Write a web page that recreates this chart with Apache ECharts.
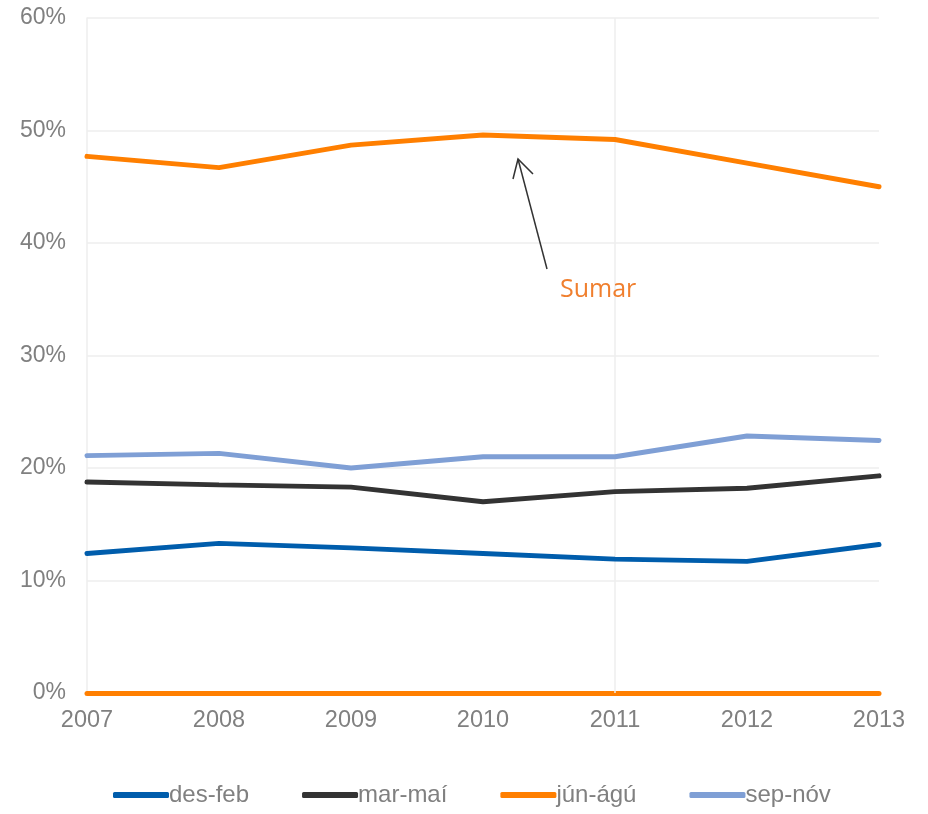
<!DOCTYPE html>
<html><head><meta charset="utf-8">
<script src="https://cdn.jsdelivr.net/npm/echarts@6/dist/echarts.min.js"></script>
<style>html,body{margin:0;padding:0;background:#fff}#c{width:928px;height:814px}</style>
</head><body><div id="c"></div>
<script>
const years = ['2007','2008','2009','2010','2011','2012','2013'];
const desFeb = [12.4, 13.3, 12.9, 12.4, 11.9, 11.7, 13.2];
const marMai = [18.75, 18.5, 18.3, 17.0, 17.9, 18.2, 19.3];
const junAgu = [47.7, 46.7, 48.7, 49.6, 49.2, 47.1, 45.0];
const sepNov = [21.1, 21.3, 20.0, 21.0, 21.0, 22.85, 22.45];
const seriesNames = ['des-feb','mar-maí','jún-ágú','sep-nóv'];
const colors = ['#005DAC','#333333','#FF7F00','#7F9FD5'];
const yTicks = [0,10,20,30,40,50,60];

const chart = echarts.init(document.getElementById('c'), null, {renderer:'canvas'});
const font = 'Liberation Sans, Arial, sans-serif';
const data = [desFeb, marMai, junAgu, sepNov];
const series = seriesNames.map((n,i)=>({
  name:n, type:'line', data:data[i], symbol:'none',
  lineStyle:{width:5,color:colors[i],cap:'round'}, itemStyle:{color:colors[i]},
  z: 3
}));
series[0].markLine = {
  silent:true, symbol:'none', label:{show:false},
  lineStyle:{color:'#eeeeee',width:1.5,type:'solid'},
  data:[{xAxis:'2011'}], z:1
};
chart.setOption({
  animation:false,
  grid:{left:87,right:49,top:18,bottom:121,containLabel:false},
  legend:{
    bottom:2, left:108, itemWidth:56, itemHeight:6, itemGap:53,
    icon:'roundRect',
    textStyle:{fontFamily:font,fontSize:24,color:'#808080',padding:[0,0,0,-5]},
    data:seriesNames
  },
  xAxis:{
    type:'category', data:years, boundaryGap:false,
    axisLine:{show:true,lineStyle:{color:'#FF7F00',width:5}},
    axisTick:{show:false},
    axisLabel:{color:'#808080',fontFamily:font,fontSize:23.5,margin:16},
    splitLine:{show:false}
  },
  yAxis:{
    type:'value', min:yTicks[0], max:yTicks[yTicks.length-1], interval:10,
    axisLine:{show:true,lineStyle:{color:'#eeeeee',width:1.5}},
    axisTick:{show:false},
    axisLabel:{color:'#808080',fontFamily:font,fontSize:23,margin:21,formatter:v=>v+'%'},
    splitLine:{show:true,lineStyle:{color:'#eeeeee',width:1.5}}
  },
  series:series,
  graphic:[
    {type:'polyline',shape:{points:[[547,269],[518,159]]},style:{stroke:'#333',lineWidth:1.5,fill:null},z:10},
    {type:'polyline',shape:{points:[[513,179],[518,159],[533,174]]},style:{stroke:'#333',lineWidth:1.5,fill:null},z:10},
    {type:'text',left:560,top:277,style:{text:'Sumar',fill:'#F07F2E',fontSize:25,fontFamily:'Open Sans, Noto Sans, sans-serif'},z:10}
  ]
});
</script></body></html>
